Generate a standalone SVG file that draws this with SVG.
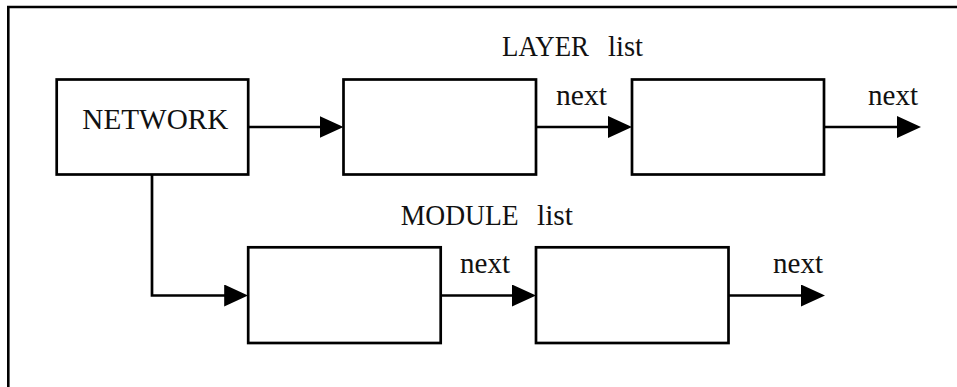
<svg xmlns="http://www.w3.org/2000/svg" width="957" height="387" viewBox="0 0 957 387">
  <style>
    .frame { fill: none; stroke: #000; stroke-width: 2.6; }
    .box { fill: #fff; stroke: #000; stroke-width: 2.7; }
    .wire { fill: none; stroke: #000; stroke-width: 2.7; marker-end: url(#head); }
    text { font-family: "Liberation Serif", "Times New Roman", serif; font-size: 28.5px; fill: #111; }
  </style>
  <defs>
    <marker id="head" viewBox="0 0 24 22" refX="20" refY="11" markerWidth="24" markerHeight="22" markerUnits="userSpaceOnUse" orient="auto">
      <path d="M0,0 L24,11 L0,22 Z" fill="#000"/>
    </marker>
  </defs>

  <rect width="957" height="387" fill="#fff"/>
  <!-- open frame: top and left edges only -->
  <path class="frame" d="M8.3,392 V7 H962"/>

  <!-- list titles -->
  <g id="layer-title">
    <text x="502" y="56" textLength="87" lengthAdjust="spacingAndGlyphs">LAYER</text>
    <text x="608" y="56" textLength="35" lengthAdjust="spacingAndGlyphs">list</text>
  </g>
  <g id="module-title">
    <text x="400.7" y="225" textLength="118" lengthAdjust="spacingAndGlyphs">MODULE</text>
    <text x="537" y="225" textLength="36" lengthAdjust="spacingAndGlyphs">list</text>
  </g>

  <!-- nodes -->
  <g id="network">
    <rect class="box" x="56.7" y="79.5" width="191.5" height="95"/>
    <text x="82.3" y="129" textLength="146" lengthAdjust="spacingAndGlyphs">NETWORK</text>
  </g>
  <g id="layer1">
    <rect class="box" x="343.5" y="79.5" width="192.5" height="95"/>
  </g>
  <g id="layer2">
    <rect class="box" x="632" y="79.5" width="192" height="95"/>
  </g>
  <g id="module1">
    <rect class="box" x="248.2" y="247.3" width="192.5" height="95.7"/>
  </g>
  <g id="module2">
    <rect class="box" x="536" y="247.3" width="192.5" height="95.7"/>
  </g>

  <!-- connectors -->
  <g id="connectors">
    <path class="wire" d="M248,127 H339.5"/>
    <path class="wire" d="M536,127 H628"/>
    <path class="wire" d="M824,127 H917"/>
    <path class="wire" d="M152,174.5 V295.5 H244.2"/>
    <path class="wire" d="M440.7,295.5 H532"/>
    <path class="wire" d="M728.5,295.5 H821"/>
  </g>

  <!-- link labels -->
  <g id="labels">
    <text x="556" y="105" textLength="51" lengthAdjust="spacingAndGlyphs">next</text>
    <text x="868" y="105" textLength="50" lengthAdjust="spacingAndGlyphs">next</text>
    <text x="460" y="273" textLength="50" lengthAdjust="spacingAndGlyphs">next</text>
    <text x="773" y="273" textLength="50" lengthAdjust="spacingAndGlyphs">next</text>
  </g>
</svg>
